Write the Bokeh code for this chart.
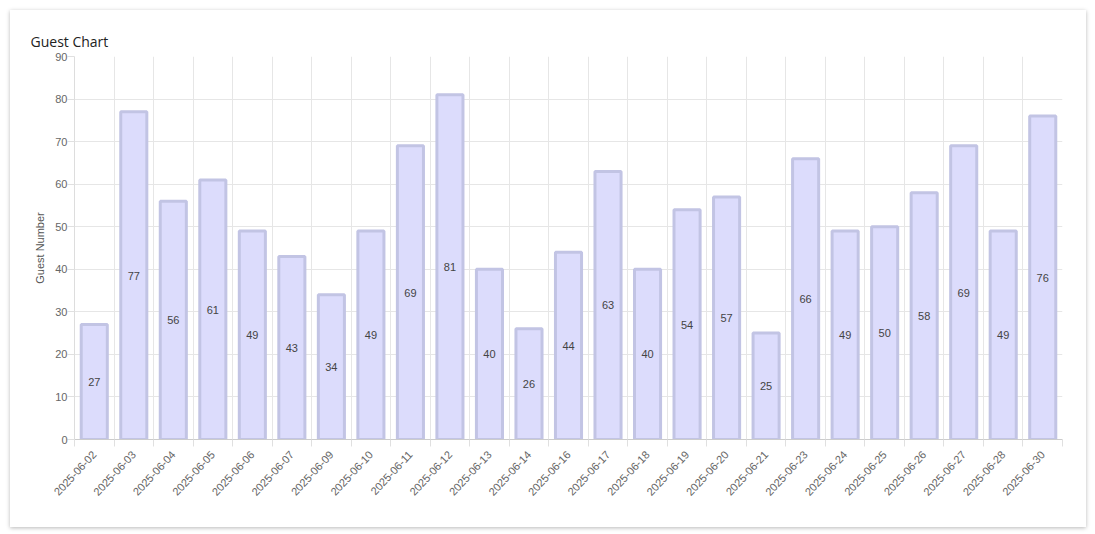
from bokeh.plotting import figure
from bokeh.models import ColumnDataSource, Range1d, FixedTicker, LabelSet
from bokeh.core.properties import value
from bokeh.embed import file_html
from bokeh.resources import INLINE
import math

dates = ["2025-06-02", "2025-06-03", "2025-06-04", "2025-06-05", "2025-06-06",
         "2025-06-07", "2025-06-09", "2025-06-10", "2025-06-11", "2025-06-12",
         "2025-06-13", "2025-06-14", "2025-06-16", "2025-06-17", "2025-06-18",
         "2025-06-19", "2025-06-20", "2025-06-21", "2025-06-23", "2025-06-24",
         "2025-06-25", "2025-06-26", "2025-06-27", "2025-06-28", "2025-06-30"]
guests = [27, 77, 56, 61, 49, 43, 34, 49, 69, 81, 40, 26, 44, 63, 40,
          54, 57, 25, 66, 49, 50, 58, 69, 49, 76]
y_ticks = [0, 10, 20, 30, 40, 50, 60, 70, 80, 90]

n = len(dates)
centers = [i + 0.5 for i in range(n)]
bounds = [i for i in range(n + 1)]

src = ColumnDataSource(dict(
    x=centers, top=guests, mid=[g / 2 for g in guests],
    lbl=[str(g) for g in guests]))

FONT = "Liberation Sans"

p = figure(width=1076, height=517, output_backend="svg", toolbar_location=None,
           x_range=Range1d(0, n), y_range=Range1d(0, 90),
           min_border_left=64, min_border_right=24, min_border_top=46,
           min_border_bottom=88, title="Guest Chart")
p.styles = {"margin-left": "10px", "margin-top": "10px",
            "box-shadow": "0 1px 4px rgba(0,0,0,0.28)"}
p.outline_line_color = None
p.background_fill_color = "white"
p.border_fill_color = "white"

p.title.text_font = "Open Sans"
p.title.text_font_size = "14px"
p.title.text_font_style = "normal"
p.title.text_color = "#222222"
p.title.align = "left"
p.title.offset = -44
p.title.standoff = 12

p.vbar(x="x", top="top", width=0.66, bottom=0, source=src,
       fill_color="#dcdcfc", line_color="#c2c4e4", line_width=3)

labels = LabelSet(x="x", y="mid", text="lbl", source=src,
                  text_align="center", text_baseline="middle",
                  text_font_size=value("11px"), text_color=value("#444444"),
                  text_font=value(FONT))
p.add_layout(labels)

# x axis
p.xaxis.ticker = FixedTicker(ticks=centers, minor_ticks=bounds)
p.xaxis.major_label_overrides = {c: d for c, d in zip(centers, dates)}
p.xaxis.major_label_orientation = math.radians(47)
p.xaxis.major_label_text_font = FONT
p.xaxis.major_label_text_font_size = "11px"
p.xaxis.major_label_text_color = "#666666"
p.xaxis.major_tick_line_color = None
p.xaxis.minor_tick_line_color = "#e0e0e0"
p.xaxis.minor_tick_out = 7
p.xaxis.minor_tick_in = 0
p.xaxis.axis_line_color = "#cccccc"
p.xaxis.major_label_standoff = 6

p.xgrid.ticker = FixedTicker(ticks=bounds)
p.xgrid.grid_line_color = "#e6e6e6"

# y axis
p.yaxis.ticker = FixedTicker(ticks=y_ticks)
p.yaxis.axis_label = "Guest Number"
p.yaxis.axis_label_text_font = FONT
p.yaxis.axis_label_text_font_size = "11px"
p.yaxis.axis_label_text_font_style = "normal"
p.yaxis.axis_label_text_color = "#555555"
p.yaxis.axis_label_standoff = 6
p.yaxis.major_label_text_font = FONT
p.yaxis.major_label_text_font_size = "11px"
p.yaxis.major_label_text_color = "#666666"
p.yaxis.major_tick_line_color = "#e0e0e0"
p.yaxis.major_tick_out = 7
p.yaxis.major_tick_in = 0
p.yaxis.minor_tick_line_color = None
p.yaxis.axis_line_color = "#dddddd"
p.yaxis.major_label_standoff = 0
p.ygrid.grid_line_color = "#e6e6e6"

open("out.html", "w").write(file_html(p, INLINE))
